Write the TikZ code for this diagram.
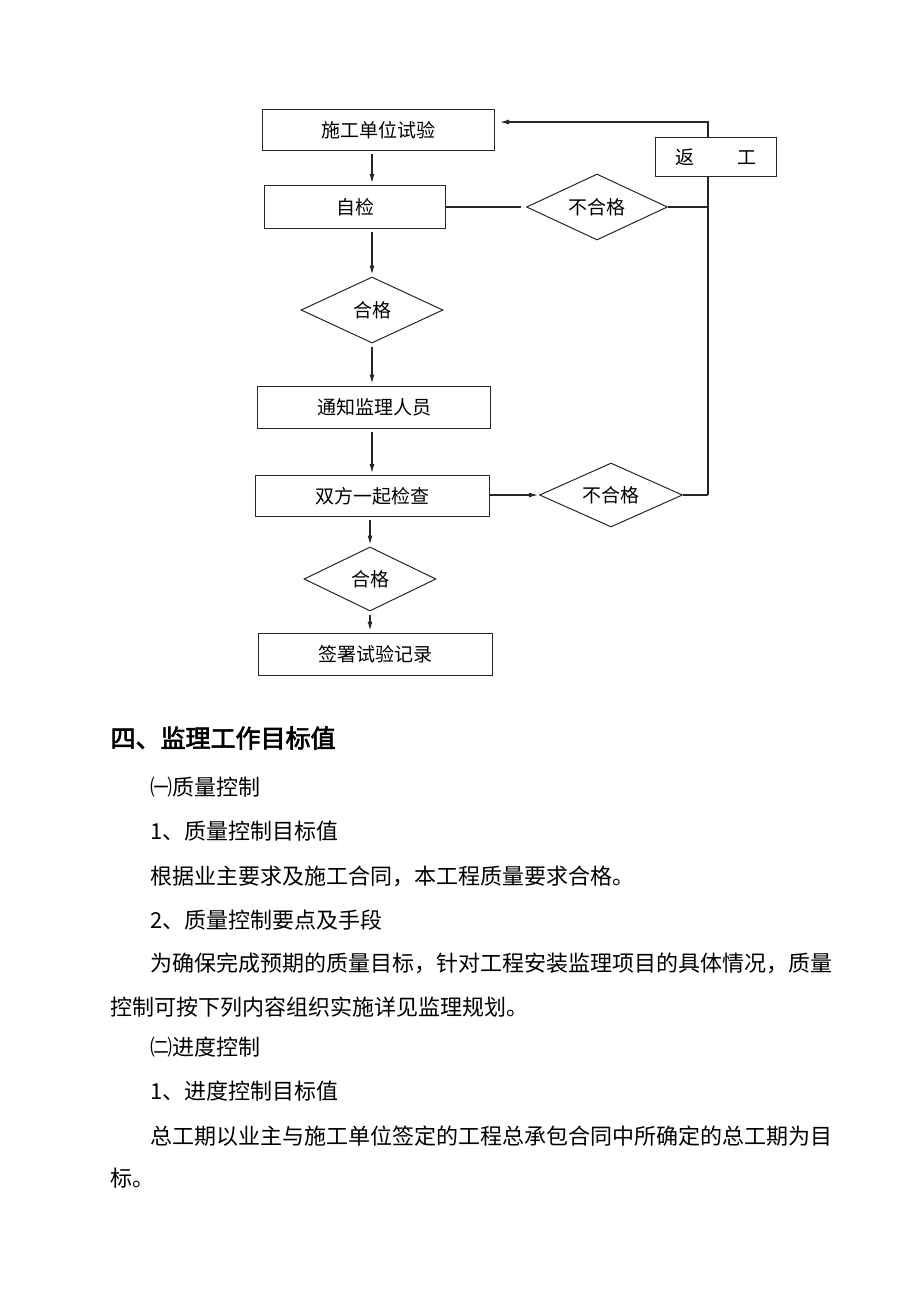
\documentclass[tikz,border=0pt]{standalone}
\usepackage{fontspec}
\setmainfont{Noto Sans CJK SC}
\newfontfamily\headfont{Noto Sans CJK SC}[FakeBold=2.5]
\usepackage{tikz}
\usetikzlibrary{arrows.meta}
\usetikzlibrary{shapes.geometric}
\tikzset{basic/.style={draw=black!85,fill=white,line width=1pt,inner sep=0pt,
                       font=\fontsize{19}{19}\selectfont}}
\tikzset{box/.style={basic,rectangle,minimum height=42pt}}
\tikzset{check/.style={basic,diamond,aspect=2.2,minimum width=142pt,minimum height=66pt}}
\def\colx{372}

\begin{document}
\begin{tikzpicture}[x=1pt,y=-1pt,>={Latex[length=9pt,width=5pt]},line width=1.1pt,draw=black!85]
    \tikzstyle{flow}=[->,shorten <=3pt,shorten >=2pt]
    \tikzstyle{para}=[anchor=west,inner sep=0pt,font=\fontsize{22}{22}\selectfont]
    \useasboundingbox (0,0) rectangle (920,1302);
    \coordinate (col) at (\colx,0);
    \coordinate (turn) at (708,122);

    % Draw the return line first, the boxes cover it
    \draw (turn |- 0,495) -- (turn |- 0,177);
    \draw[->,shorten >=6pt] (turn |- 0,138) -- (turn) -- (494,122);

    % Draw the main column
    \node[box,minimum width=232pt,minimum height=41pt] (test) at (378,130) {施工单位试验};
    \node[box,minimum width=181pt,minimum height=43pt] (self) at (355,207) {自检};
    \node[check] (ok1) at (\colx,310) {合格};
    \node[box,minimum width=233pt] (notify) at (374,407) {通知监理人员};
    \node[box,minimum width=234pt,minimum height=41pt] (joint) at (372,496) {双方一起检查};
    \node[check,minimum width=132pt,minimum height=64pt] (ok2) at (370,579) {合格};
    \node[box,minimum width=234pt] (sign) at (375,654) {签署试验记录};

    % Draw the side branch
    \node[check,minimum width=141pt] (ng1) at (597,207) {不合格};
    \node[check,minimum width=143pt,minimum height=64pt] (ng2) at (611,495) {不合格};
    \node[box,minimum width=121pt,minimum height=39pt] (rework) at (716,157) {返\hspace{44pt}工};

    % Connect the column
    \draw[flow] (col |- test.south) -- (col |- self.north);
    \draw[flow] (col |- self.south) -- (ok1.north);
    \draw[flow] (ok1.south) -- (col |- notify.north);
    \draw[flow] (col |- notify.south) -- (col |- joint.north);
    \draw[flow] (ok2.north |- joint.south) -- (ok2.north);
    \draw[flow] (ok2.south) -- (ok2.south |- sign.north);

    % Connect the failures back to the return line
    \draw (self.east) -- ([xshift=-5pt]ng1.west);
    \draw (ng1.east) -- (turn |- ng1.east);
    \draw[->,shorten >=1pt] (joint.east |- ng2.west) -- (ng2.west);
    \draw (ng2.east) -- (turn |- ng2.east);

    % Text below the chart
    \node[anchor=west,inner sep=0pt,font=\headfont\fontsize{25}{25}\selectfont] (head) at (110,738) {四、监理工作目标值};
    \foreach \name/\x/\y/\txt in {q/150/787/㈠质量控制,
        q1/150/831/1、质量控制目标值,
        q1t/150/876/根据业主要求及施工合同，本工程质量要求合格。,
        q2/150/920/2、质量控制要点及手段,
        q2a/150/963/为确保完成预期的质量目标，针对工程安装监理项目的具体情况，质量,
        q2b/110/1007/控制可按下列内容组织实施详见监理规划。,
        p/150/1047/㈡进度控制,
        p1/150/1091/1、进度控制目标值,
        p1a/150/1136/总工期以业主与施工单位签定的工程总承包合同中所确定的总工期为目,
        p1b/110/1178/标。}
        \node[para] (\name) at (\x,\y) {\txt};
\end{tikzpicture}
\end{document}
